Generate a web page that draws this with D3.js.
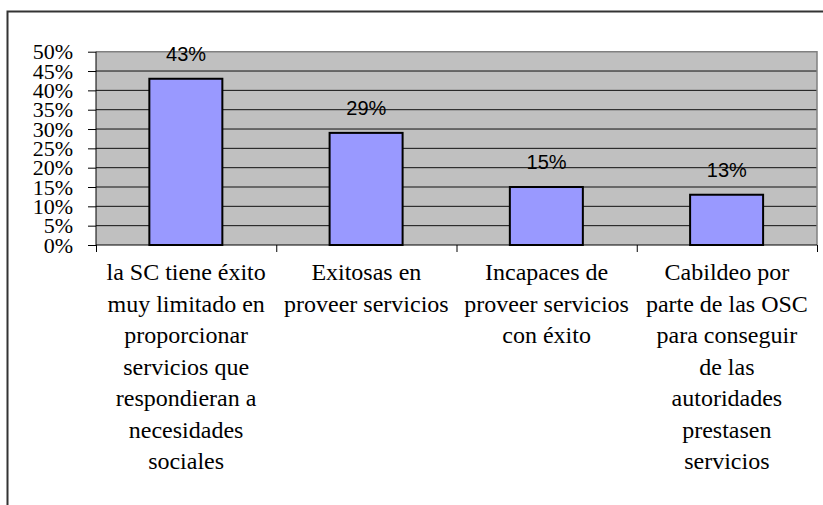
<!DOCTYPE html>
<html>
<head>
<meta charset="utf-8">
<script src="https://cdn.jsdelivr.net/npm/d3@7"></script>
<style>
  body { margin: 0; background: #fff; }
  svg { display: block; }
  .serif { font-family: "Liberation Serif", Tinos, "Nimbus Roman", "Nimbus Roman No9 L", FreeSerif, "Noto Serif", "DejaVu Serif", "Times New Roman", Times, serif; }
  .sans { font-family: "Liberation Sans", Arial, sans-serif; }
</style>
</head>
<body>
<div id="chart"></div>
<script>
// Datos
const categorias = ["SC limitado", "Exitosas", "Incapaces", "Cabildeo"];
const etiquetas = [
  ["la SC tiene éxito", "muy limitado en", "proporcionar", "servicios que", "respondieran a", "necesidades", "sociales"],
  ["Exitosas en", "proveer servicios"],
  ["Incapaces de", "proveer servicios", "con éxito"],
  ["Cabildeo por", "parte de las OSC", "para conseguir", "de las", "autoridades", "prestasen", "servicios"]
];
const valores = [0.43, 0.29, 0.15, 0.13];
const yTicks = [0, 0.05, 0.1, 0.15, 0.2, 0.25, 0.3, 0.35, 0.4, 0.45, 0.5];

const W = 823, H = 505;
const plot = { left: 96, right: 817, top: 51.7, bottom: 245 };

const svg = d3.select("#chart").append("svg")
  .attr("width", W).attr("height", H);

// marco exterior
svg.append("path")
  .attr("d", `M7.5,${H} V11.5 H${W}`)
  .attr("fill", "none")
  .attr("stroke", "#333")
  .attr("stroke-width", 2);

const x = d3.scaleBand().domain(categorias).range([plot.left, plot.right]);
const xLin = d3.scaleLinear().domain([0, categorias.length]).range([plot.left, plot.right]);
const y = d3.scaleLinear().domain([0, 0.5]).range([plot.bottom, plot.top]);

// fondo del area de trazado
svg.append("rect")
  .attr("x", plot.left).attr("y", plot.top)
  .attr("width", plot.right - plot.left)
  .attr("height", plot.bottom - plot.top)
  .attr("fill", "#c0c0c0");

// lineas de cuadricula
svg.append("g")
  .selectAll("line")
  .data(yTicks.filter((d) => d > 0 && d < 0.5))
  .join("line")
  .attr("x1", plot.left).attr("x2", plot.right)
  .attr("y1", (d) => y(d)).attr("y2", (d) => y(d))
  .attr("stroke", "#111")
  .attr("stroke-width", 1);

// borde superior y derecho
svg.append("path")
  .attr("d", `M${plot.left},${y(0.5)} H${plot.right} V${plot.bottom}`)
  .attr("fill", "none")
  .attr("stroke", "#808080")
  .attr("stroke-width", 1.5);

// barras
const bw = x.bandwidth();
svg.append("g")
  .selectAll("rect")
  .data(valores)
  .join("rect")
  .attr("x", (d, i) => x(categorias[i]) + bw * 0.296)
  .attr("width", bw * 0.405)
  .attr("y", (d) => y(d))
  .attr("height", (d) => y(0) - y(d))
  .attr("fill", "#9999ff")
  .attr("stroke", "#000")
  .attr("stroke-width", 2);

// etiquetas de valor
svg.append("g")
  .selectAll("text")
  .data(valores)
  .join("text")
  .attr("class", "sans")
  .attr("x", (d, i) => x(categorias[i]) + bw / 2)
  .attr("y", (d) => y(d) - 18)
  .attr("text-anchor", "middle")
  .style("font-size", "20px")
  .attr("fill", "#000")
  .text((d) => d3.format(".0%")(d));

// eje Y
const yAxis = svg.append("g")
  .attr("transform", `translate(${plot.left},0)`)
  .call(d3.axisLeft(y).tickValues(yTicks).tickFormat(d3.format(".0%")).tickSize(8).tickPadding(15))
  .attr("font-family", null)
  .attr("font-size", null);
yAxis.select(".domain").attr("stroke", "#000").attr("d", `M0,${plot.top}V${plot.bottom}`);
yAxis.selectAll(".tick line").attr("stroke", "#000");
yAxis.selectAll(".tick text")
  .attr("class", "serif")
  .style("font-size", "22px")
  .attr("fill", "#000");

// eje X
const xAxis = svg.append("g")
  .attr("transform", `translate(0,${plot.bottom})`)
  .call(d3.axisBottom(xLin).tickValues(d3.range(categorias.length + 1)).tickFormat("").tickSize(7));
xAxis.select(".domain").attr("stroke", "#000").attr("d", `M${plot.left},0H${plot.right}`);
xAxis.selectAll(".tick line").attr("stroke", "#000");

// etiquetas de categoria
const cat = svg.append("g")
  .selectAll("text")
  .data(etiquetas)
  .join("text")
  .attr("class", "serif")
  .attr("x", (d, i) => x(categorias[i]) + bw / 2)
  .attr("y", 280)
  .attr("text-anchor", "middle")
  .style("font-size", "24px")
  .attr("fill", "#000");

cat.each(function (lines, i) {
  const cx = x(categorias[i]) + bw / 2;
  d3.select(this).selectAll("tspan")
    .data(lines)
    .join("tspan")
    .attr("x", cx)
    .attr("dy", (d, j) => (j === 0 ? 0 : 31.5))
    .text((d) => d);
});
</script>
</body>
</html>
